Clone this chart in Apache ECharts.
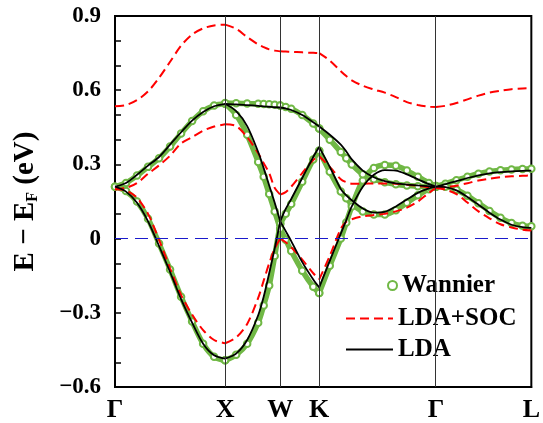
<!DOCTYPE html>
<html>
<head>
<meta charset="utf-8">
<script src="https://cdn.jsdelivr.net/npm/echarts@6/dist/echarts.min.js"></script>
<style>
  html, body { margin: 0; padding: 0; background: #fff; }
  #chart { width: 543px; height: 423px; }
</style>
</head>
<body>
<div id="chart"></div>
<script>
// high-symmetry points along the path (Γ-X = 1)
var symK = [0, 1, 1.5, 1.854, 2.914, 3.78];
var symLabels = ['Γ', 'X', 'W', 'K', 'Γ', 'L'];

// k sampling used for all bands
var kPath = [
  0, 0.1, 0.2, 0.3, 0.4, 0.5, 0.6, 0.7, 0.8, 0.9, 1.0,
  1.1, 1.2, 1.3, 1.35, 1.4, 1.45, 1.5,
  1.55, 1.6, 1.7, 1.8, 1.854,
  1.95, 2.05, 2.1, 2.15, 2.25, 2.35, 2.45, 2.55, 2.65, 2.75, 2.85, 2.914,
  3.0, 3.1, 3.2, 3.3, 3.4, 3.5, 3.6, 3.7, 3.78
];

// LDA (black)
var lda1 = [
  0.21, 0.19, 0.145, 0.07, -0.03, -0.135, -0.245, -0.34, -0.425, -0.472, -0.485,
  -0.465, -0.41, -0.31, -0.235, -0.14, -0.04, 0.07,
  0.12, 0.16, 0.245, 0.33, 0.37,
  0.29, 0.2, 0.175, 0.155, 0.122, 0.105, 0.108, 0.13, 0.158, 0.185, 0.203, 0.21,
  0.22, 0.232, 0.245, 0.256, 0.264, 0.269, 0.272, 0.274, 0.275
];
var lda2 = [
  0.21, 0.225, 0.258, 0.295, 0.33, 0.38, 0.43, 0.477, 0.512, 0.535, 0.545,
  0.515, 0.455, 0.35, 0.285, 0.215, 0.145, 0.07,
  0.03, -0.01, -0.095, -0.165, -0.197,
  -0.09, 0.02, 0.075, 0.13, 0.21, 0.258, 0.277, 0.275, 0.26, 0.24, 0.22, 0.21,
  0.208, 0.195, 0.168, 0.137, 0.105, 0.077, 0.056, 0.046, 0.043
];
var lda3 = [
  null, null, null, null, null, null, null, null, null, null, 0.545,
  0.543, 0.54, 0.537, 0.535, 0.533, 0.531, 0.53,
  0.526, 0.52, 0.5, 0.47, 0.453,
  0.42, 0.38, 0.352, 0.32, 0.275, 0.248, 0.232, 0.223, 0.218, 0.215, 0.212, 0.21,
  null, null, null, null, null, null, null, null, null
];

// LDA+SOC (red dashed)
var soc1 = [
  0.535, 0.54, 0.56, 0.595, 0.65, 0.715, 0.78, 0.825, 0.85, 0.862, 0.865,
  0.848, 0.815, 0.785, 0.774, 0.765, 0.76, 0.757,
  0.756, 0.755, 0.753, 0.751, 0.75,
  0.72, 0.677, 0.657, 0.64, 0.618, 0.603, 0.59, 0.572, 0.552, 0.54, 0.533, 0.532,
  0.537, 0.548, 0.563, 0.578, 0.59, 0.598, 0.604, 0.607, 0.608
];
var soc2 = [
  0.2, 0.205, 0.225, 0.262, 0.296, 0.335, 0.385, 0.41, 0.436, 0.453, 0.462,
  0.455, 0.41, 0.345, 0.305, 0.265, 0.205, 0.178,
  0.188, 0.21, 0.265, 0.318, 0.333,
  0.29, 0.24, 0.228, 0.222, 0.222, 0.223, 0.223, 0.222, 0.218, 0.213, 0.208, 0.205,
  0.208, 0.214, 0.224, 0.235, 0.242, 0.248, 0.252, 0.254, 0.255
];
var soc3 = [
  0.2, 0.195, 0.165, 0.1, -0.005, -0.12, -0.228, -0.307, -0.37, -0.41, -0.423,
  -0.4, -0.345, -0.24, -0.17, -0.1, -0.04, 0.0,
  -0.015, -0.035, -0.085, -0.14, -0.165,
  -0.07, 0.04, 0.068, 0.078, 0.09, 0.095, 0.1, 0.11, 0.125, 0.15, 0.185, 0.205,
  0.198, 0.18, 0.146, 0.11, 0.082, 0.058, 0.045, 0.036, 0.033
];

// Wannier (green circles)
var wan1 = [
  0.21, 0.192, 0.15, 0.08, -0.02, -0.125, -0.235, -0.335, -0.425, -0.478, -0.492,
  -0.47, -0.425, -0.34, -0.27, -0.19, -0.07, 0.06,
  0.1, 0.14, 0.23, 0.32, 0.355,
  0.27, 0.19, 0.163, 0.14, 0.11, 0.097, 0.097, 0.115, 0.145, 0.175, 0.2, 0.21,
  0.222, 0.236, 0.25, 0.262, 0.271, 0.276, 0.279, 0.281, 0.282
];
var wan2 = [
  0.21, 0.225, 0.255, 0.29, 0.325, 0.372, 0.425, 0.475, 0.515, 0.538, 0.545,
  0.5, 0.42, 0.31, 0.25, 0.18, 0.11, 0.04,
  -0.005, -0.05, -0.13, -0.195, -0.22,
  -0.11, 0.0, 0.065, 0.13, 0.235, 0.285, 0.298, 0.295, 0.275, 0.25, 0.225, 0.213,
  0.21, 0.198, 0.173, 0.143, 0.112, 0.084, 0.063, 0.052, 0.05
];
var wan3 = [
  null, null, null, null, null, null, null, null, null, null, 0.548,
  0.547, 0.546, 0.545, 0.544, 0.543, 0.541, 0.538,
  0.532, 0.525, 0.5, 0.465, 0.445,
  0.4, 0.35, 0.325, 0.3, 0.26, 0.24, 0.228, 0.22, 0.215, 0.212, 0.21, 0.21,
  null, null, null, null, null, null, null, null, null
];

var GREEN = '#70b845';
var FONT = 'Liberation Serif';

// cut a band into pieces between high-symmetry points
function pieces(vals) {
  var out = [];
  for (var s = 0; s < symK.length - 1; s++) {
    var seg = [];
    for (var i = 0; i < kPath.length; i++) {
      var k = kPath[i];
      if (k >= symK[s] - 1e-6 && k <= symK[s + 1] + 1e-6 && vals[i] != null) {
        seg.push([k, vals[i]]);
      }
    }
    if (seg.length > 1) out.push(seg);
  }
  return out;
}

var series = [];
[wan1, wan2, wan3].forEach(function (b) {
  pieces(b).forEach(function (d) {
    series.push({
      name: 'Wannier', type: 'line', data: d, smooth: 0.3,
      symbol: 'emptyCircle', symbolSize: 6.5, showSymbol: true,
      itemStyle: { color: GREEN, borderWidth: 1.5 },
      lineStyle: { color: GREEN, width: 5.5 },
      z: 2
    });
  });
});
[soc1, soc2, soc3].forEach(function (b) {
  pieces(b).forEach(function (d) {
    series.push({
      name: 'LDA+SOC', type: 'line', data: d, smooth: 0.3, symbol: 'none',
      itemStyle: { color: '#ff0000' },
      lineStyle: { color: '#ff0000', width: 2, type: [9, 5] },
      z: 3
    });
  });
});
[lda1, lda2, lda3].forEach(function (b) {
  pieces(b).forEach(function (d) {
    series.push({
      name: 'LDA', type: 'line', data: d, smooth: 0.3, symbol: 'none',
      itemStyle: { color: '#000' },
      lineStyle: { color: '#000', width: 1.8 },
      z: 4
    });
  });
});

// high-symmetry verticals
series.push({
  type: 'line', data: [], silent: true, z: 1,
  markLine: {
    symbol: 'none', silent: true, label: { show: false },
    lineStyle: { color: '#333', width: 1, type: 'solid' },
    data: [{ xAxis: symK[1] }, { xAxis: symK[2] }, { xAxis: symK[3] }, { xAxis: symK[4] }]
  }
});
// Fermi level
series.push({
  type: 'line', data: [], silent: true, z: 1,
  markLine: {
    symbol: 'none', silent: true, label: { show: false },
    lineStyle: { color: '#1a1acc', width: 1.2, type: [13, 7] },
    data: [{ yAxis: 0 }]
  }
});

var chart = echarts.init(document.getElementById('chart'));
chart.setOption({
  animation: false,
  backgroundColor: '#fff',
  grid: { left: 115, right: 10, top: 16, bottom: 35, show: true, borderColor: '#000', borderWidth: 2 },
  legend: [
    {
      data: [{ name: 'Wannier', icon: 'emptyCircle' }],
      left: 382, top: 268, itemWidth: 9, itemHeight: 9, itemGap: 10,
      textStyle: { fontFamily: FONT, fontWeight: 'bold', fontSize: 25, color: '#000' }
    },
    {
      data: ['LDA+SOC', 'LDA'],
      orient: 'vertical', left: 340, top: 301, itemWidth: 47, itemHeight: 14, itemGap: 6,
      itemStyle: { color: 'transparent', borderColor: 'transparent', borderWidth: 0 },
      textStyle: { fontFamily: FONT, fontWeight: 'bold', fontSize: 25, color: '#000' }
    }
  ],
  xAxis: {
    type: 'value', min: 0, max: symK[5],
    axisLine: { onZero: false, lineStyle: { color: '#000', width: 2 } },
    axisTick: { show: false },
    splitLine: { show: false },
    axisLabel: {
      customValues: symK,
      margin: 10,
      fontFamily: FONT, fontWeight: 'bold', fontSize: 26, color: '#000',
      formatter: function (v) {
        for (var i = 0; i < symK.length; i++) {
          if (Math.abs(v - symK[i]) < 1e-6) return symLabels[i];
        }
        return '';
      }
    }
  },
  yAxis: {
    type: 'value', min: -0.6, max: 0.9, interval: 0.3,
    axisLine: { show: true, lineStyle: { color: '#000', width: 2 } },
    axisTick: { show: true, inside: true, length: 6, lineStyle: { color: '#000', width: 1.5 } },
    minorTick: { show: true, splitNumber: 3, length: 6, lineStyle: { color: '#000', width: 1.5 } },
    splitLine: { show: false },
    axisLabel: {
      margin: 14,
      fontFamily: FONT, fontWeight: 'bold', fontSize: 23, color: '#000',
      formatter: function (v) {
        if (Math.abs(v) < 1e-9) return '0';
        return (v < 0 ? '\u2212' : '') + Math.abs(v).toFixed(1);
      }
    },
    name: '{a|E \u2212 E}{s|F}{a| (eV)}',
    nameLocation: 'middle', nameRotate: 90, nameGap: 74,
    nameTextStyle: {
      rich: {
        a: { fontFamily: FONT, fontWeight: 'bold', fontSize: 29, color: '#000' },
        s: { fontFamily: FONT, fontWeight: 'bold', fontSize: 16, color: '#000', padding: [14, 0, 0, 0] }
      }
    }
  },
  series: series
});
</script>
</body>
</html>
